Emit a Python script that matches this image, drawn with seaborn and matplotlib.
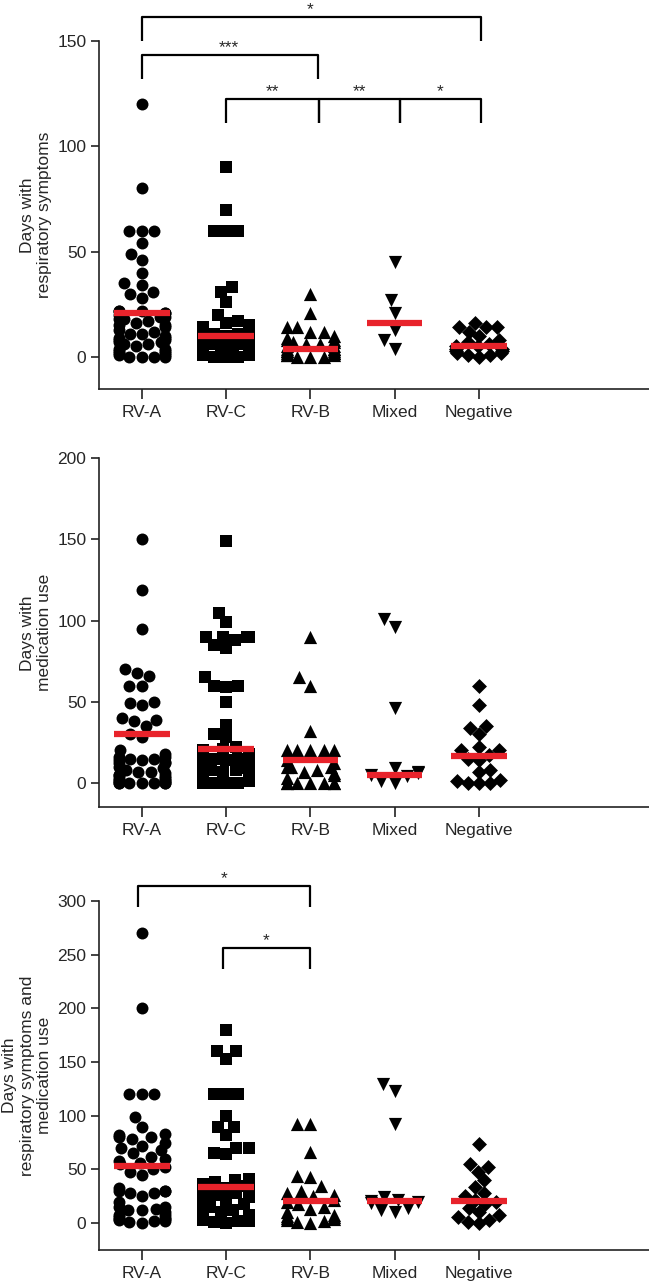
import numpy as np
import pandas as pd
import matplotlib
matplotlib.use("Agg")
import matplotlib.pyplot as plt
import seaborn as sns

# ---------------- data ----------------
categories = ["RV-A", "RV-C", "RV-B", "Mixed", "Negative"]

# Panel 1: days with respiratory symptoms
resp_rva = [120, 80, 60, 60, 60, 54, 49, 46, 40, 35, 34, 31, 30, 28, 22, 22, 22, 21, 21, 20,
            19, 19, 18, 18, 17, 16, 15, 15, 14, 13, 12, 11, 11, 10, 9, 9, 8, 8, 7, 7, 6, 6,
            5, 4, 4, 3, 3, 2, 2, 1, 1, 0, 0, 0, 0]
resp_rvc = [90, 70, 60, 60, 60, 33, 31, 26, 20, 17, 16, 15, 15, 14, 13, 13, 12, 12, 11, 11,
            11, 10, 10, 10, 9, 9, 9, 8, 8, 7, 7, 7, 6, 6, 5, 5, 5, 4, 4, 3, 3, 3, 2, 2, 1, 1,
            1, 0, 0, 0]
resp_rvb = [30, 21, 14, 14, 12, 12, 10, 9, 8, 8, 7, 7, 6, 6, 5, 5, 4, 4, 4, 3, 3, 3, 2, 2, 2,
            1, 1, 1, 0, 0, 0]
resp_mixed = [45, 27, 21, 13, 8, 4]
resp_neg = [16, 14, 14, 14, 12, 10, 8, 7, 6, 5, 5, 4, 4, 3, 3, 2, 2, 1, 1, 0]
resp_medians = [21, 10, 4, 16, 5]

# Panel 2: days with medication use
med_rva = [150, 119, 95, 70, 68, 66, 60, 60, 50, 49, 48, 40, 39, 38, 35, 30, 28, 20, 18, 16,
           16, 15, 15, 14, 14, 13, 12, 12, 10, 9, 8, 7, 7, 6, 5, 5, 4, 3, 3, 2, 2, 1, 1, 0,
           0, 0, 0, 0, 0, 0]
med_rvc = [149, 105, 99, 90, 90, 90, 90, 88, 85, 83, 65, 60, 60, 59, 50, 36, 30, 28, 22, 21,
           20, 18, 17, 16, 15, 15, 14, 13, 12, 11, 10, 9, 8, 8, 7, 6, 6, 5, 5, 4, 4, 3, 2,
           2, 1, 1, 0, 0, 0, 0]
med_rvb = [90, 65, 60, 32, 20, 20, 20, 20, 20, 14, 12, 10, 10, 10, 8, 7, 6, 5, 3,
           0, 0, 0, 0, 0, 0, 0]
med_mixed = [101, 96, 46, 9, 7, 6, 5, 4, 1, 0]
med_neg = [60, 48, 35, 34, 30, 22, 20, 20, 17, 15, 14, 8, 7, 2, 1, 0, 0, 0]
med_medians = [30, 21, 14, 5, 16.5]

# Panel 3: days with respiratory symptoms and medication use
both_rva = [270, 200, 120, 120, 120, 99, 90, 83, 82, 80, 80, 78, 75, 72, 70, 68, 65, 62, 60,
            58, 56, 55, 52, 50, 48, 45, 33, 30, 30, 30, 28, 28, 25, 20, 15, 15, 13, 12, 12,
            10, 8, 8, 6, 5, 4, 4, 3, 2, 2, 1, 0]
both_rvc = [180, 160, 160, 153, 120, 120, 120, 100, 90, 90, 82, 70, 70, 65, 64, 41, 40, 38,
            36, 36, 35, 35, 33, 32, 30, 28, 28, 26, 25, 24, 22, 20, 18, 15, 12, 10, 10, 8, 8,
            8, 7, 6, 5, 4, 3, 2, 2, 1, 0]
both_rvb = [92, 92, 66, 44, 43, 35, 30, 28, 26, 25, 22, 20, 18, 15, 13, 10, 8, 7, 6, 5, 4,
            3, 2, 1, 0]
both_mixed = [130, 123, 92, 24, 22, 21, 20, 19, 14, 12, 10]
both_neg = [74, 55, 52, 48, 40, 34, 28, 25, 22, 20, 18, 14, 10, 8, 6, 3, 1, 0]
both_medians = [53, 33.5, 20.5, 20.5, 21]

# significance annotations (x in category-index units):
# (x_left, x_right, y_bar, y_leg_bottom, star_x, label)
resp_sig = [(0.0, 4.02, 161.4, 150, 2.0, "*"),
            (0.0, 2.085, 143.5, 132, 1.03, "***"),
            (1.0, 2.1, 122.4, 111, 1.55, "**"),
            (2.1, 3.06, 122.4, 111, 2.58, "**"),
            (3.06, 4.02, 122.4, 111, 3.54, "*")]
both_sig = [(-0.05, 2.0, 314, 294.7, 0.97, "*"),
            (0.965, 2.0, 256, 236.4, 1.48, "*")]

# ---------------- style ----------------
sns.set_style("ticks")
plt.rcParams["font.family"] = ["Liberation Sans", "DejaVu Sans"]

SP = 1.45  # distance between category centres (native units); swarm gutter stays 0.8
pos = [i * SP for i in range(len(categories))]
markers = ["o", "s", "^", "v", "D"]
msizes = [8.6, 8.4, 9.5, 9.5, 7.6]
RED = "#E8232B"
FS = 12.5

fig = plt.figure(figsize=(6.49, 12.87), dpi=100)

panels = [
    dict(groups=[resp_rva, resp_rvc, resp_rvb, resp_mixed, resp_neg], medians=resp_medians,
         rect=[0.1525, 0.69775, 0.8475, 0.2704], ylim=(-15.2, 150), ticks=[0, 50, 100, 150],
         label="Days with\nrespiratory symptoms", sig=resp_sig),
    dict(groups=[med_rva, med_rvc, med_rvb, med_mixed, med_neg], medians=med_medians,
         rect=[0.1525, 0.37273, 0.8475, 0.27117], ylim=(-15, 200), ticks=[0, 50, 100, 150, 200],
         label="Days with\nmedication use", sig=[]),
    dict(groups=[both_rva, both_rvc, both_rvb, both_mixed, both_neg], medians=both_medians,
         rect=[0.1525, 0.02875, 0.8475, 0.27117], ylim=(-25, 300),
         ticks=[0, 50, 100, 150, 200, 250, 300],
         label="Days with\nrespiratory symptoms and\nmedication use", sig=both_sig),
]

for p in panels:
    ax = fig.add_axes(p["rect"])
    for i, vals in enumerate(p["groups"]):
        df = pd.DataFrame({"pos": [pos[i]] * len(vals), "days": vals})
        sns.swarmplot(data=df, x="pos", y="days", native_scale=True, ax=ax,
                      color="black", marker=markers[i], size=msizes[i], linewidth=0,
                      warn_thresh=1.0, zorder=2)
    for i, m in enumerate(p["medians"]):
        ax.hlines(m, pos[i] - 0.33 * SP, pos[i] + 0.33 * SP, color=RED, lw=4.5, zorder=3)
    ax.set_xlim(-0.51 * SP, 6.02 * SP)
    ax.set_xticks(pos, categories)
    ax.set_ylim(*p["ylim"])
    ax.set_yticks(p["ticks"])
    ax.set_xlabel("")
    ax.set_ylabel(p["label"], fontsize=FS, linespacing=1.18)
    ax.yaxis.set_label_coords(-0.086, 0.5)
    for s in ["top", "right"]:
        ax.spines[s].set_visible(False)
    for s in ["left", "bottom"]:
        ax.spines[s].set_linewidth(1.2)
        ax.spines[s].set_color("#222222")
    ax.tick_params(axis="x", length=7.2, width=1.2, labelsize=FS, pad=4, color="#222222")
    ax.tick_params(axis="y", length=6, width=1.2, labelsize=FS, pad=3, color="#222222")
    scale = (p["rect"][3] * 1287) / (p["ylim"][1] - p["ylim"][0])  # px per unit
    for (x1, x2, yb, yl, sx, lab) in p["sig"]:
        ax.plot([x1 * SP, x1 * SP, x2 * SP, x2 * SP], [yl, yb, yb, yl], color="black", lw=1.6,
                clip_on=False, solid_capstyle="butt", zorder=4)
        ax.text(sx * SP, yb + 3.0 / scale, lab, ha="center", va="baseline", fontsize=FS)

fig.savefig("out.png", dpi=100)
